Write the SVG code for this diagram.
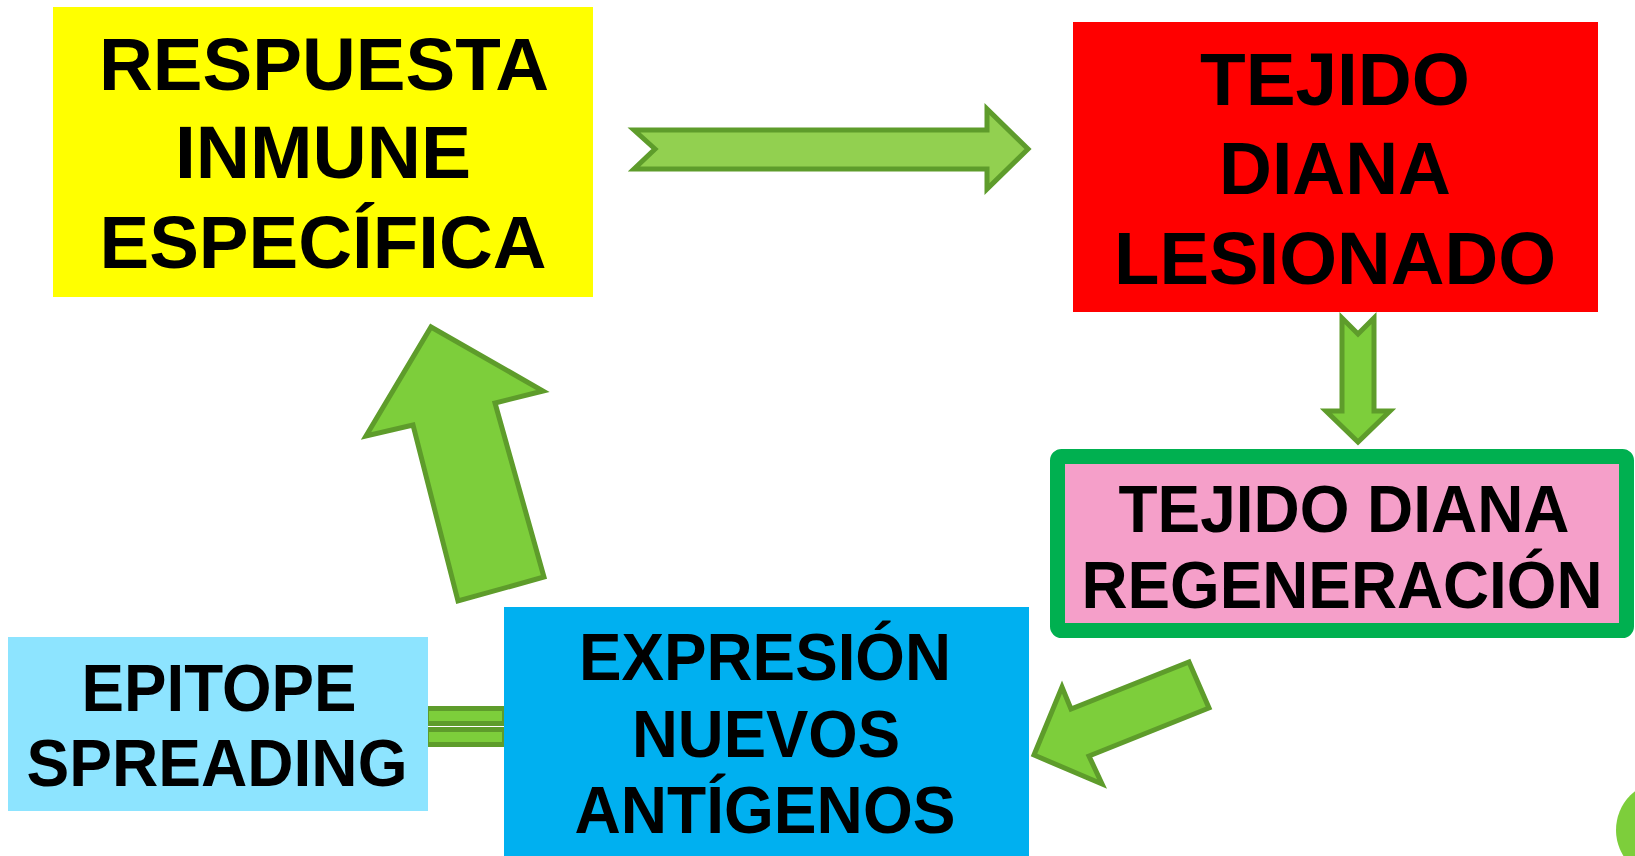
<svg xmlns="http://www.w3.org/2000/svg" width="1635" height="856" viewBox="0 0 1635 856">
<style>
.t{font-family:"Liberation Sans",Arial,sans-serif;font-weight:bold;fill:#000;text-anchor:middle}
.big{font-size:75px}
.mid{font-size:66px}
.arr{fill:#7DCE3B;stroke:#5E9C2B;stroke-width:5;stroke-linejoin:miter}
</style>
<rect width="1635" height="856" fill="#fff"/>
<g id="connectors">
<polygon class="arr" style="fill:#92D050" points="634,130 987,130 987,109 1028,149 987,189 987,169 634,169 655,149"/>
<polygon class="arr" points="1342,318 1358,334 1374,318 1374,411 1390,411 1358,442 1326,411 1342,411"/>
<polygon class="arr" points="1189,662 1209,708 1089,756 1102,784 1034,755 1062,687 1071,709"/>
<polygon class="arr" points="431,327 543,391 495,403 544,577 458,601 413,425 366,436"/>
<rect class="arr" x="426.5" y="708.5" width="78" height="15"/>
<rect class="arr" x="426.5" y="729.5" width="78" height="15"/>
</g>
<g id="respuesta">
<rect x="53" y="7" width="540" height="290" fill="#FFFF00"/>
<text class="t big" x="324" y="90" textLength="450" lengthAdjust="spacingAndGlyphs">RESPUESTA</text>
<text class="t big" x="323" y="178" textLength="296" lengthAdjust="spacingAndGlyphs">INMUNE</text>
<text class="t big" x="323" y="268" textLength="447" lengthAdjust="spacingAndGlyphs">ESPECÍFICA</text>
</g>
<g id="lesionado">
<rect x="1073" y="22" width="525" height="290" fill="#FF0000"/>
<text class="t big" x="1335" y="105" textLength="270" lengthAdjust="spacingAndGlyphs">TEJIDO</text>
<text class="t big" x="1335" y="194" textLength="232" lengthAdjust="spacingAndGlyphs">DIANA</text>
<text class="t big" x="1335" y="284" textLength="442" lengthAdjust="spacingAndGlyphs">LESIONADO</text>
</g>
<g id="regeneracion">
<rect x="1057.5" y="456.5" width="569" height="174" rx="4" fill="#F59FC9" stroke="#00B050" stroke-width="15"/>
<text class="t mid" x="1344" y="532" textLength="451" lengthAdjust="spacingAndGlyphs">TEJIDO DIANA</text>
<text class="t mid" x="1342" y="608" textLength="521" lengthAdjust="spacingAndGlyphs">REGENERACIÓN</text>
</g>
<g id="expresion">
<rect x="504" y="607" width="525" height="249" fill="#00B0F0"/>
<text class="t mid" x="765" y="680" textLength="372" lengthAdjust="spacingAndGlyphs">EXPRESIÓN</text>
<text class="t mid" x="766" y="757" textLength="268" lengthAdjust="spacingAndGlyphs">NUEVOS</text>
<text class="t mid" x="765" y="833" textLength="381" lengthAdjust="spacingAndGlyphs">ANTÍGENOS</text>
</g>
<g id="epitope">
<rect x="8" y="637" width="420" height="174" fill="#8DE4FF"/>
<text class="t mid" x="219" y="711" textLength="275" lengthAdjust="spacingAndGlyphs">EPITOPE</text>
<text class="t mid" x="217" y="786" textLength="381" lengthAdjust="spacingAndGlyphs">SPREADING</text>
</g>
<circle cx="1665" cy="830" r="49" fill="#7DCE3B"/>
</svg>
